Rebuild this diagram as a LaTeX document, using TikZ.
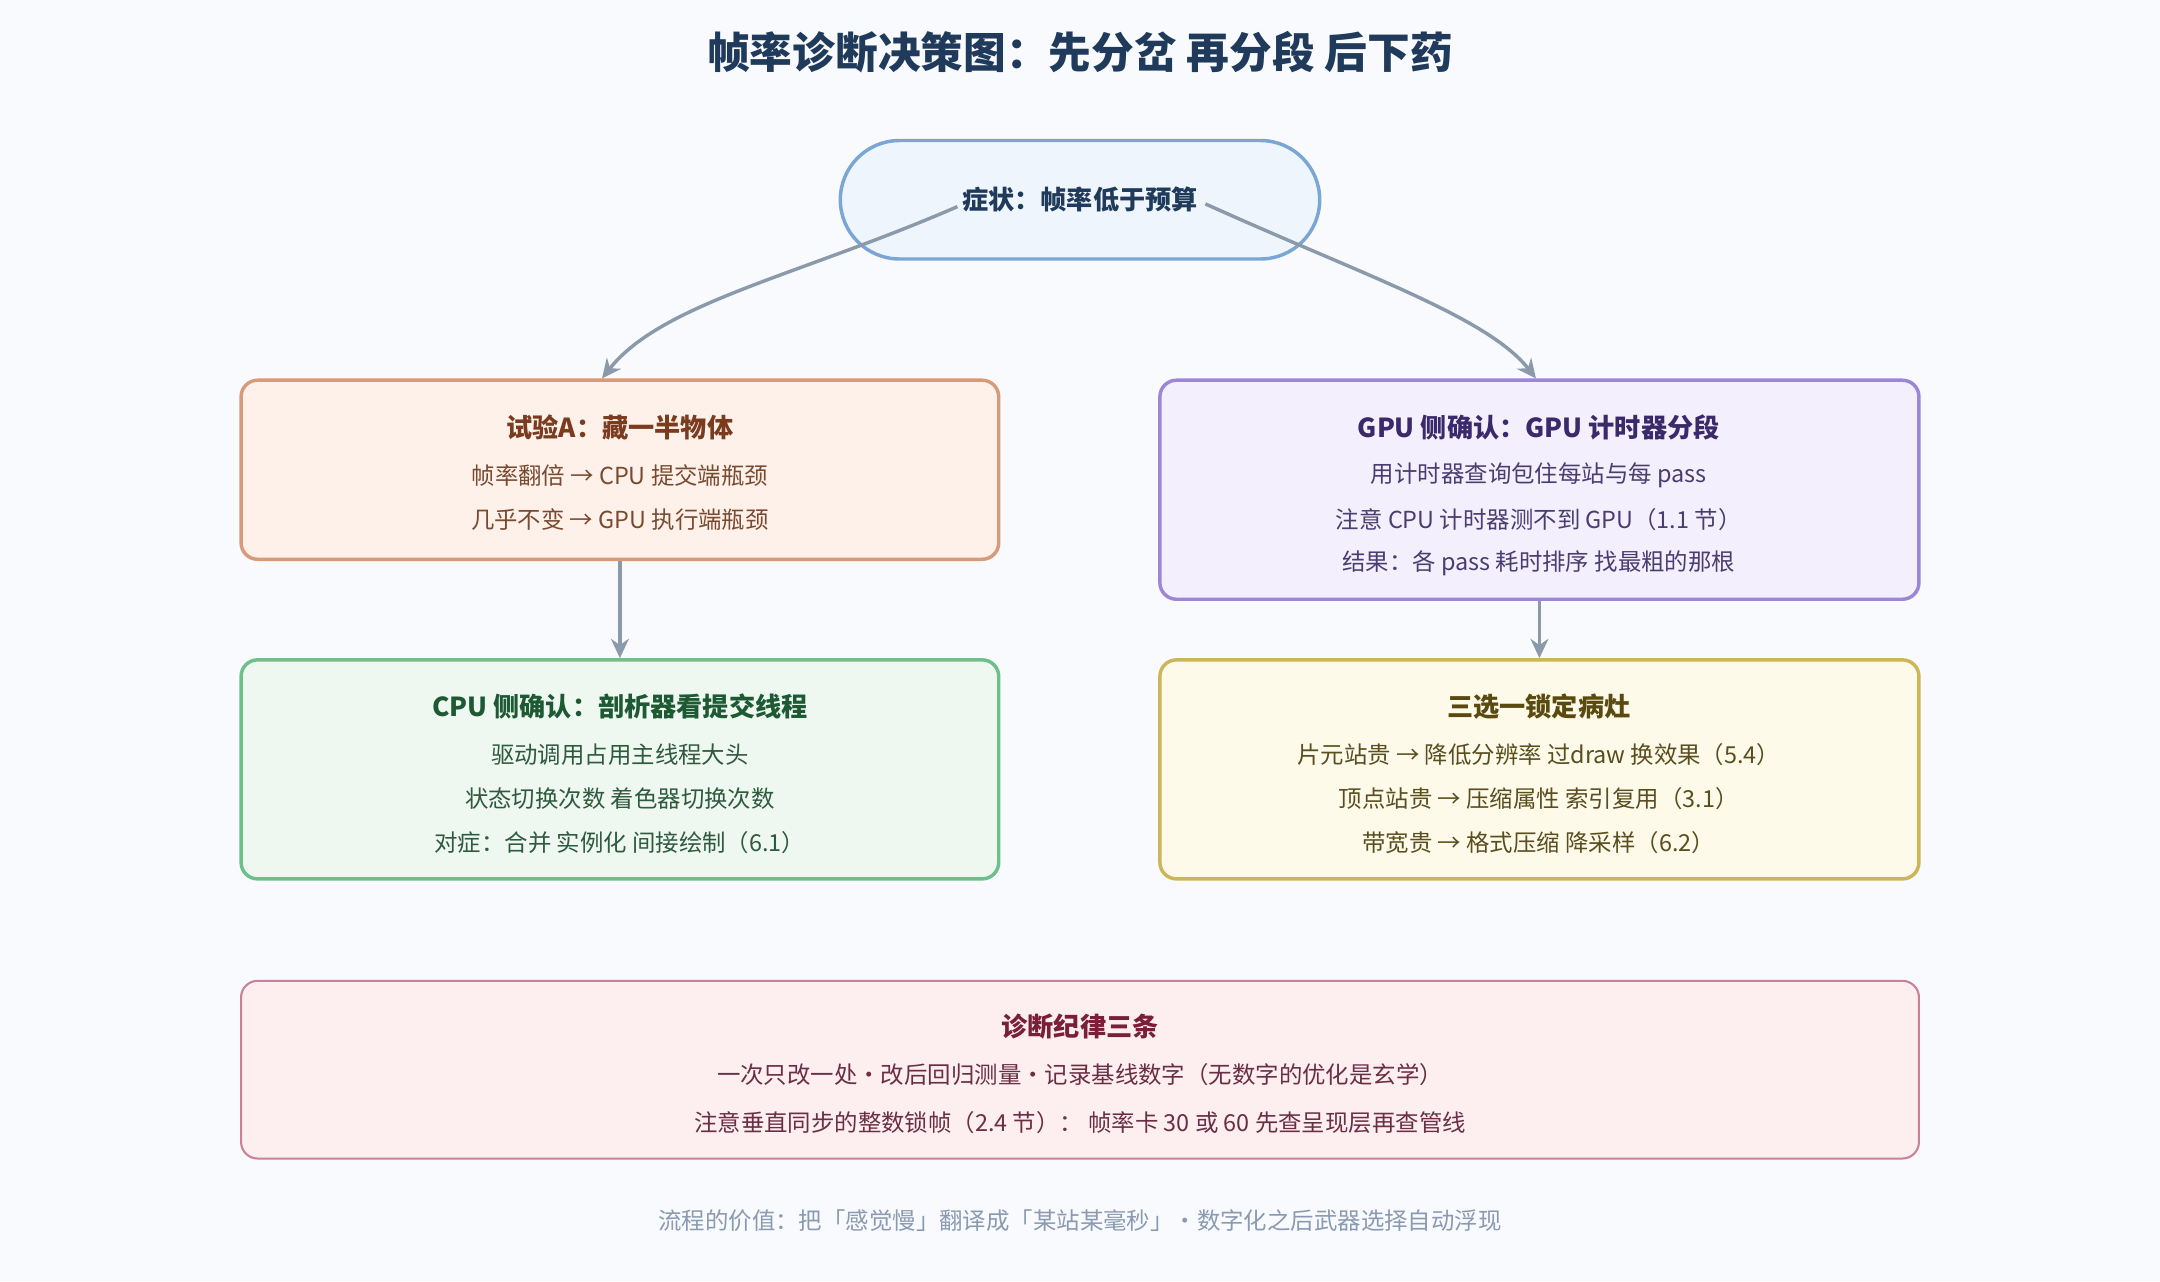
\documentclass[tikz,border=0pt]{standalone}
\usepackage{fontspec}
\setmainfont{Noto Sans CJK SC}
\usetikzlibrary{arrows.meta}
\definecolor{bg}{HTML}{F8FAFD}
\definecolor{arr}{HTML}{8A9AAB}
\definecolor{bA}{HTML}{D79A7A}\definecolor{fA}{HTML}{FDF1EA}
\definecolor{bG}{HTML}{9C87D6}\definecolor{fG}{HTML}{F3EFFC}
\definecolor{bC}{HTML}{6FBF8A}\definecolor{fC}{HTML}{EEF8F0}
\definecolor{bT}{HTML}{CDB65A}\definecolor{fT}{HTML}{FDFAE9}
\definecolor{bD}{HTML}{C98098}\definecolor{fD}{HTML}{FDEEF0}
\definecolor{bS}{HTML}{7AA6D4}\definecolor{fS}{HTML}{EEF5FC}
\begin{document}
\begin{tikzpicture}[x=1pt,y=-1pt,
 box/.style={draw=b#1,fill=f#1,line width=2.5pt,rounded corners=12pt},
 ttl/.style={font=\fontsize{19}{22}\selectfont\bfseries},
 txt/.style={font=\fontsize{17}{20}\selectfont},
 con/.style={draw=arr,line width=2.5pt,-{Stealth[length=14pt,width=13pt]}}]
\fill[bg] (0,0) rectangle (1568,930);
\useasboundingbox (0,0) rectangle (1568,930);
\definecolor{ct0}{HTML}{1F3A5A}
\node[font=\fontsize{31}{36}\selectfont\bfseries,text=ct0] (title) at (784,38) {帧率诊断决策图：先分岔 再分段 后下药};
% start
\node[draw=bS,fill=fS,line width=2.5pt,rounded corners=43pt,minimum width=348pt,minimum height=86pt] (start) at (784,145) {};
\node[ttl,text=ct0] (stext) at (784,145) {症状：帧率低于预算};
\coordinate (sl) at (695,150);\coordinate (sr) at (875,148);
% boxes
\node[box=A,minimum width=550pt,minimum height=130pt] (A) at (450,341) {};
\node[box=G,minimum width=551pt,minimum height=159pt] (G) at (1117.5,355.5) {};
\node[box=C,minimum width=550pt,minimum height=159pt] (C) at (450,558.5) {};
\node[box=T,minimum width=551pt,minimum height=159pt] (T) at (1117.5,558.5) {};
\node[draw=bD,fill=fD,line width=1.5pt,rounded corners=12pt,minimum width=1218pt,minimum height=129pt] (D) at (784,776.5) {};
% texts
\definecolor{ca}{HTML}{7A3B1F}\definecolor{cat}{HTML}{7A4A30}
\node[ttl,text=ca] at (450,310) {试验A：藏一半物体};
\node[txt,text=cat] at (450,345) {帧率翻倍 → CPU 提交端瓶颈};
\node[txt,text=cat] at (450,377) {几乎不变 → GPU 执行端瓶颈};
\definecolor{cg}{HTML}{3B2A6B}\definecolor{cgt}{HTML}{4A3D70}
\node[ttl,text=cg] at (1117,310) {GPU 侧确认：GPU 计时器分段};
\node[txt,text=cgt] at (1117,345) {用计时器查询包住每站与每 pass};
\node[txt,text=cgt] at (1117,377) {注意 CPU 计时器测不到 GPU（1.1 节）};
\node[txt,text=cgt] at (1117,409) {结果：各 pass 耗时排序 找最粗的那根};
\definecolor{cc}{HTML}{1D5A34}\definecolor{cct}{HTML}{2F5A3E}
\node[ttl,text=cc] at (450,513) {CPU 侧确认：剖析器看提交线程};
\node[txt,text=cct] at (450,548) {驱动调用占用主线程大头};
\node[txt,text=cct] at (450,580) {状态切换次数 着色器切换次数};
\node[txt,text=cct] at (450,612) {对症：合并 实例化 间接绘制（6.1）};
\definecolor{ct}{HTML}{5A4A10}\definecolor{ctt}{HTML}{5A4E20}
\node[ttl,text=ct] at (1117,513) {三选一锁定病灶};
\node[txt,text=ctt] at (1117,548) {片元站贵 → 降低分辨率 过draw 换效果（5.4）};
\node[txt,text=ctt] at (1117,580) {顶点站贵 → 压缩属性 索引复用（3.1）};
\node[txt,text=ctt] at (1117,612) {带宽贵 → 格式压缩 降采样（6.2）};
\definecolor{cd}{HTML}{7A1F3A}\definecolor{cdt}{HTML}{6A2F45}
\node[ttl,text=cd] at (784,745) {诊断纪律三条};
\node[txt,text=cdt] at (784,780) {一次只改一处·改后回归测量·记录基线数字（无数字的优化是玄学）};
\node[txt,text=cdt] at (784,815) {注意垂直同步的整数锁帧（2.4 节）： 帧率卡 30 或 60 先查呈现层再查管线};
\definecolor{cf}{HTML}{8A9AB0}
\node[txt,text=cf] (foot) at (784,886) {流程的价值：把「感觉慢」翻译成「某站某毫秒」·数字化之后武器选择自动浮现};
% connectors
\draw[con] (sl) .. controls (580,200) and (480,220) .. (A.north -| 437,0);
\draw[con] (sr) .. controls (990,200) and (1080,230) .. (G.north -| 1115,0);
\draw[con] (A.south) -- (C.north);
\draw[con] (G.south) -- (T.north);
\end{tikzpicture}
\end{document}
